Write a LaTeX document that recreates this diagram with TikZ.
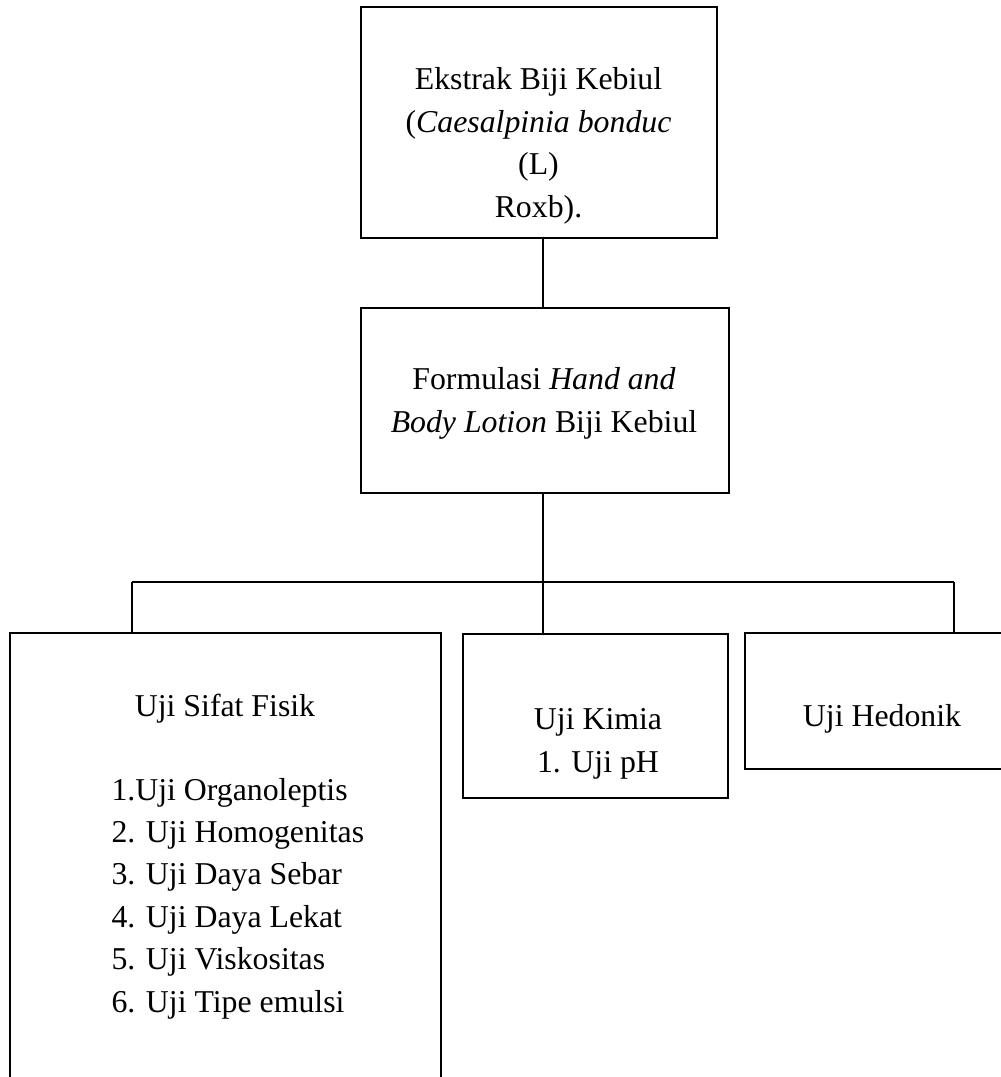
\documentclass[tikz,border=0pt]{standalone}
\usepackage{fontspec}
\setmainfont{Liberation Serif}
\usetikzlibrary{positioning,calc}
\newcommand{\pxu}{0.3774pt}
\tikzset{
  box/.style={draw=black,line width=0.75pt,inner sep=0pt},
  txt/.style={font=\fontsize{12}{16}\selectfont,inner sep=0pt,align=center},
  link/.style={draw=black,line width=0.75pt}
}
\begin{document}
\begin{tikzpicture}[x=\pxu,y=-\pxu]
  \useasboundingbox (0,0) rectangle (1001,1077);
  % boxes
  \node[box,minimum width=356*\pxu,minimum height=231*\pxu] (ekstrak) at (539,122.5) {};
  \node[box,minimum width=368*\pxu,minimum height=185*\pxu] (formulasi) at (545,400.5) {};
  \node[box,minimum width=431*\pxu,minimum height=477*\pxu] (fisik) at (225.5,871.5) {};
  \node[box,minimum width=265*\pxu,minimum height=164*\pxu] (kimia) at (595.5,716) {};
  \node[box,minimum width=274*\pxu,minimum height=136*\pxu] (hedonik) at (882,701) {};
  % texts (base = last line)
  \node[txt,anchor=base] (ekstrak-t) at (538.5,217) {Ekstrak Biji Kebiul\\(\textit{Caesalpinia bonduc}\\(L)\\Roxb).};
  \node[txt,anchor=base] (formulasi-t) at (544,432) {Formulasi \textit{Hand and}\\\textit{Body Lotion} Biji Kebiul};
  \node[txt,anchor=base] (fisik-t) at (225,716) {Uji Sifat Fisik};
  \node[txt,align=left,anchor=base west] (fisik-l) at (111,1012) {1.Uji Organoleptis\\2. Uji Homogenitas\\3. Uji Daya Sebar\\4. Uji Daya Lekat\\5. Uji Viskositas\\6. Uji Tipe emulsi};
  \node[txt,anchor=base] (kimia-t) at (598,772) {Uji Kimia\\1. Uji pH};
  \node[txt,anchor=base] (hedonik-t) at (882,726) {Uji Hedonik};
  % connectors
  \coordinate (hub) at (543,582);
  \coordinate (hubl) at (132,582);
  \coordinate (hubr) at (954,582);
  \draw[link] (ekstrak.south -| hub) -- (formulasi.north -| hub);
  \draw[link] (formulasi.south -| hub) -- (hub);
  \draw[link] (hubl) -- (hubr);
  \draw[link] (hubl) -- (hubl |- fisik.north);
  \draw[link] (hub) -- (hub |- kimia.north);
  \draw[link] (hubr) -- (hubr |- hedonik.north);
\end{tikzpicture}
\end{document}
